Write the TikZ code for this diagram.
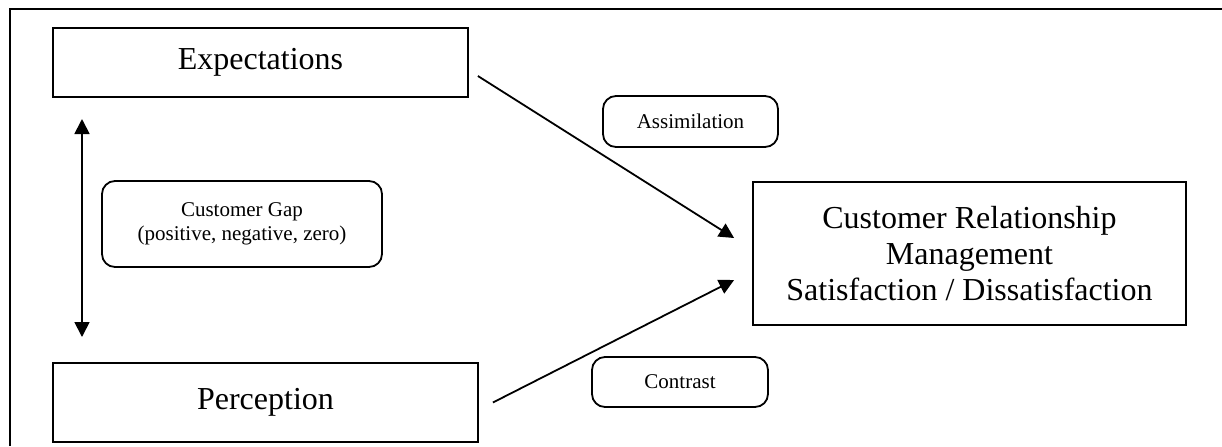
\documentclass[tikz,border=0pt]{standalone}
\usepackage{fontspec}
\setmainfont{Liberation Serif}
\usetikzlibrary{arrows.meta,positioning,calc}
\tikzset{
  factorbox/.style={draw=black,line width=0.9pt,align=center,inner sep=0pt,
    font=\fontsize{16}{18}\selectfont},
  notebox/.style={draw=black,line width=0.9pt,rounded corners=6.5pt,align=center,
    inner sep=0pt,font=\fontsize{10.5}{12}\selectfont},
  diagramarrow/.style={-{Triangle[length=7.5pt,width=7.5pt]},line width=0.9pt},
  gaparrow/.style={{Triangle[length=7.5pt,width=7.5pt]}-{Triangle[length=7.5pt,width=7.5pt]},
    line width=0.9pt}
}

\begin{document}
\begin{tikzpicture}[x=0.5pt,y=-0.5pt]
  \useasboundingbox (0,0) rectangle (1222,446);
  % frame
  \draw[line width=1pt] (10,446) -- (10,9) -- (1222,9);

  % main boxes
  \node[factorbox,minimum width=207.5pt,minimum height=34.5pt] (expect) at (260.5,62.5) {Expectations};
  \node[factorbox,minimum width=212.5pt,minimum height=39.5pt] (percep) at (265.5,402.5) {Perception};
  \node[factorbox,minimum width=216.5pt,minimum height=71.5pt] (crm) at (969.5,253.5)
    {Customer Relationship\\Management\\Satisfaction / Dissatisfaction};

  % labels
  \node[notebox,minimum width=140pt,minimum height=43pt] (gap) at (242,224)
    {Customer Gap\\(positive, negative, zero)};
  \node[notebox,minimum width=87.5pt,minimum height=25.5pt] (assim) at (690.5,121.5) {Assimilation};
  \node[notebox,minimum width=88pt,minimum height=25pt] (contrast) at (680,382) {Contrast};

  % arrows
  \coordinate (gaptop) at (82,119);
  \coordinate (gapbot) at (82,337);
  \draw[gaparrow] (gaptop) -- (gapbot);
  \draw[diagramarrow] ($(expect.east)+(9,13.5)$) -- ($(crm.west)+(-18,-15.5)$);
  \draw[diagramarrow] ($(percep.east)+(14,0)$) -- ($(crm.west)+(-18,26.5)$);
\end{tikzpicture}
\end{document}
